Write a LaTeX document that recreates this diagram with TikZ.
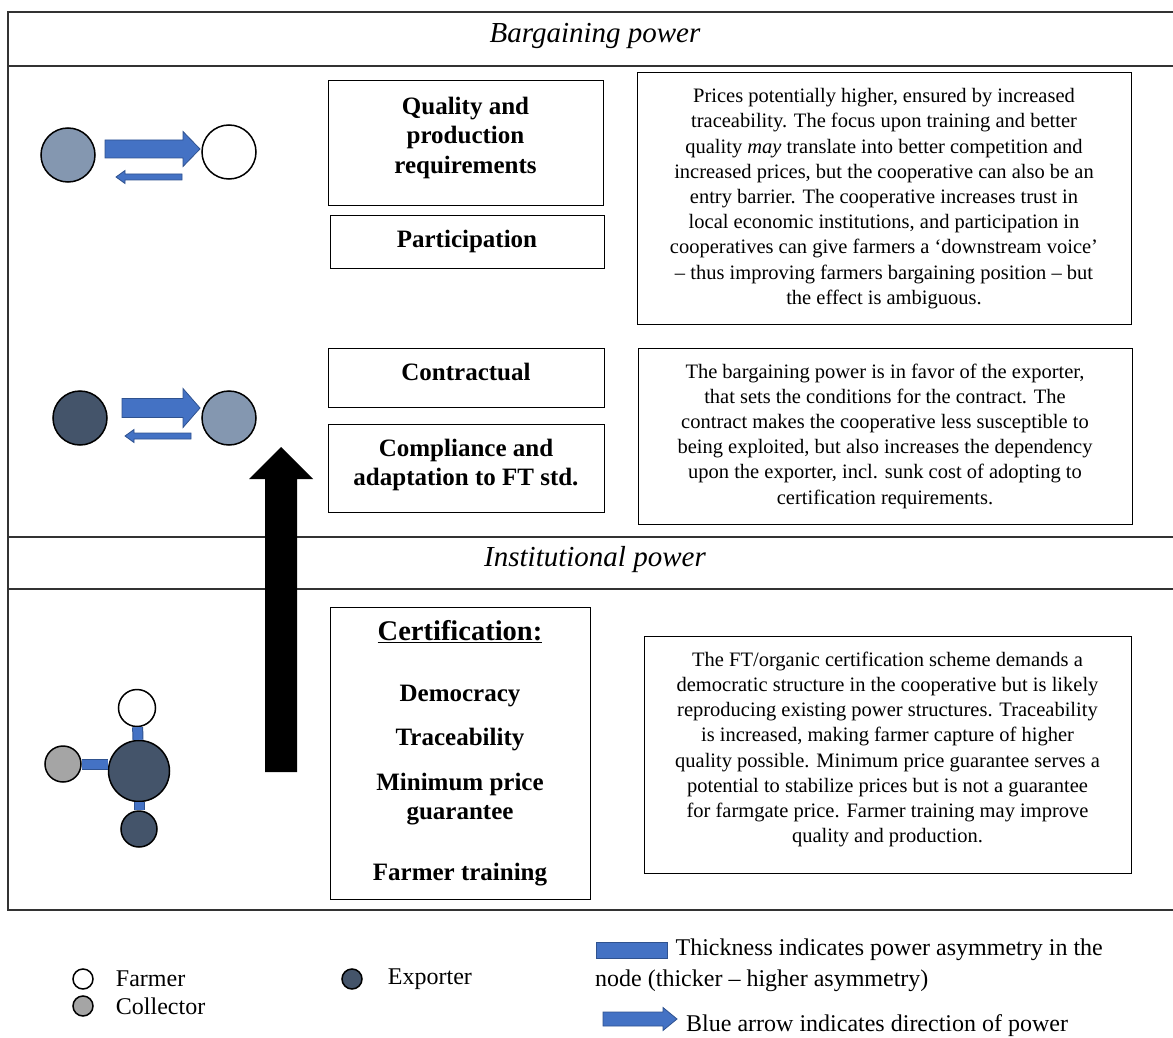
\documentclass[tikz,border=0pt]{standalone}
\usepackage{fontspec}
\setmainfont{Liberation Serif}
\usetikzlibrary{positioning}

\definecolor{lightnode}{HTML}{8497B0}
\definecolor{darknode}{HTML}{44546A}
\definecolor{graynode}{HTML}{A5A5A5}
\definecolor{powerblue}{HTML}{4472C4}
\definecolor{powerline}{HTML}{2F528F}

\tikzset{
    actor/.style={circle, draw=black, line width=1.5pt, inner sep=0pt, minimum size=#1},
    labelbox/.style={draw, line width=1pt, inner sep=0pt, align=center,
        font=\bfseries\fontsize{25}{29.5}\selectfont},
    descbox/.style={draw, line width=1pt, inner sep=0pt, align=center,
        font=\fontsize{20.5}{25.2}\selectfont},
    frameline/.style={line width=1.6pt, draw=black!80},
    tie/.style={draw=powerline, line width=1pt, double=powerblue, double distance=9pt},
    legendtext/.style={inner sep=0pt, anchor=west, font=\fontsize{24}{28}\selectfont}
}

% block arrow: x from, x to, y, half shaft, half head, head length
\newcommand{\powerarrow}[6]{
            \filldraw[fill=powerblue, draw=powerline, line width=0.8pt]
                ({#1},{#3-#4}) -- ({#2-(#6)},{#3-#4}) -- ({#2-(#6)},{#3-#5}) -- ({#2},{#3})
                -- ({#2-(#6)},{#3+#5}) -- ({#2-(#6)},{#3+#4}) -- ({#1},{#3+#4}) -- cycle;
        }

\begin{document}
\begin{tikzpicture}[x=1pt, y=-1pt]
        \useasboundingbox (0,0) rectangle (1173,1038);

        % table frame
        \draw[frameline] (1173,12) -- (8,12) -- (8,910) -- (1173,910);
        \draw[frameline] (8,66) -- (1173,66);
        \draw[frameline] (8,537) -- (1173,537);
        \draw[frameline] (8,589) -- (1173,589);
        \node[font=\itshape\fontsize{29}{33}\selectfont] (bargtitle) at (595,36) {Bargaining power};
        \node[font=\itshape\fontsize{29}{33}\selectfont] (insttitle) at (595,560) {Institutional power};

        % upward arrow
        \fill (265,772) -- (265,479) -- (249,479) -- (281,447) -- (313,479) -- (297,479) -- (297,772) -- cycle;

        % row 1
        \node[actor=54pt, fill=lightnode] (coopA) at (68,155) {};
        \node[actor=54pt, fill=white] (farmerA) at (229,152) {};
        \powerarrow{105}{200}{149}{9}{17.5}{17}
        \powerarrow{182}{116}{177}{3}{6.5}{-9}

        % row 2
        \node[actor=54pt, fill=darknode] (exporterB) at (80,418) {};
        \node[actor=54pt, fill=lightnode] (coopB) at (229,418) {};
        \powerarrow{122}{200}{408}{9.5}{19.5}{17}
        \powerarrow{191}{125}{436}{3}{6.5}{-9}

        % row 3
        \node[actor=61pt, fill=darknode] (hubC) at (139,771) {};
        \node[actor=37pt, fill=white] (farmerC) at (137,708) {};
        \node[actor=36pt, fill=graynode] (collectorC) at (63,764) {};
        \node[actor=36pt, fill=darknode] (exporterC) at (139,829) {};
        \draw[tie] (farmerC) -- (hubC);
        \draw[tie] (collectorC) -- (collectorC -| hubC.west);
        \draw[tie] (exporterC) -- (hubC);

        % middle column
        \node[labelbox, minimum width=275pt, minimum height=124pt, text depth=15.5pt] (quality) at (465.5,143)
            {Quality and\\production\\requirements};
        \node[labelbox, minimum width=274pt, minimum height=53pt] (participation) at (467,241.5)
            {Participation};
        \node[labelbox, minimum width=276pt, minimum height=59pt, text depth=12pt] (contractual) at (466,377.5)
            {Contractual};
        \node[labelbox, minimum width=276pt, minimum height=88pt, text depth=11.5pt] (compliance) at (466,468)
            {Compliance and\\adaptation to FT std.};
        \node[labelbox, minimum width=260pt, minimum height=292pt] (certification) at (460,753)
            {{\fontsize{28.5}{30}\selectfont\underline{Certification:}}\\[31pt]
             Democracy\\[15pt] Traceability\\[15pt] Minimum price\\ guarantee\\[31pt]
             Farmer training};

        % right column
        \node[descbox, minimum width=494pt, minimum height=251pt] (descA) at (884,198.5)
            {Prices potentially higher, ensured by increased\\
             traceability. The focus upon training and better\\
             quality \emph{may} translate into better competition and\\
             increased prices, but the cooperative can also be an\\
             entry barrier. The cooperative increases trust in\\
             local economic institutions, and participation in\\
             cooperatives can give farmers a ‘downstream voice’\\
             – thus improving farmers bargaining position – but\\
             the effect is ambiguous.};
        \node[descbox, minimum width=494pt, minimum height=176pt] (descB) at (885,436)
            {The bargaining power is in favor of the exporter,\\
             that sets the conditions for the contract. The\\
             contract makes the cooperative less susceptible to\\
             being exploited, but also increases the dependency\\
             upon the exporter, incl. sunk cost of adopting to\\
             certification requirements.};
        \node[descbox, minimum width=487pt, minimum height=237pt, text depth=14.5pt] (descC) at (887.5,754.5)
            {The FT/organic certification scheme demands a\\
             democratic structure in the cooperative but is likely\\
             reproducing existing power structures. Traceability\\
             is increased, making farmer capture of higher\\
             quality possible. Minimum price guarantee serves a\\
             potential to stabilize prices but is not a guarantee\\
             for farmgate price. Farmer training may improve\\
             quality and production.};

        % legend
        \node[actor=20pt, fill=white] (legfarmer) at (83,979) {};
        \node[legendtext, right=22pt of legfarmer] (legfarmertext) {Farmer};
        \node[actor=20pt, fill=graynode] (legcollector) at (83,1006) {};
        \node[legendtext, right=22pt of legcollector] (legcollectortext) {Collector};
        \node[actor=20pt, fill=darknode] (legexporter) at (352,979) {};
        \node[legendtext, right=25pt of legexporter] (legexportertext) {Exporter};
        \node[fill=powerblue, draw=powerline, line width=0.8pt, inner sep=0pt,
            minimum width=71pt, minimum height=16pt] (legthick) at (631.5,950) {};
        \node[legendtext, right=8pt of legthick] (legthicktext) {Thickness indicates power asymmetry in the};
        \node[legendtext] (legthicktextb) at (595,981) {node (thicker – higher asymmetry)};
        \powerarrow{603}{677}{1019}{7}{11.5}{14}
        \node[legendtext] (legarrowtext) at (686,1026) {Blue arrow indicates direction of power};
        \end{tikzpicture}
\end{document}
